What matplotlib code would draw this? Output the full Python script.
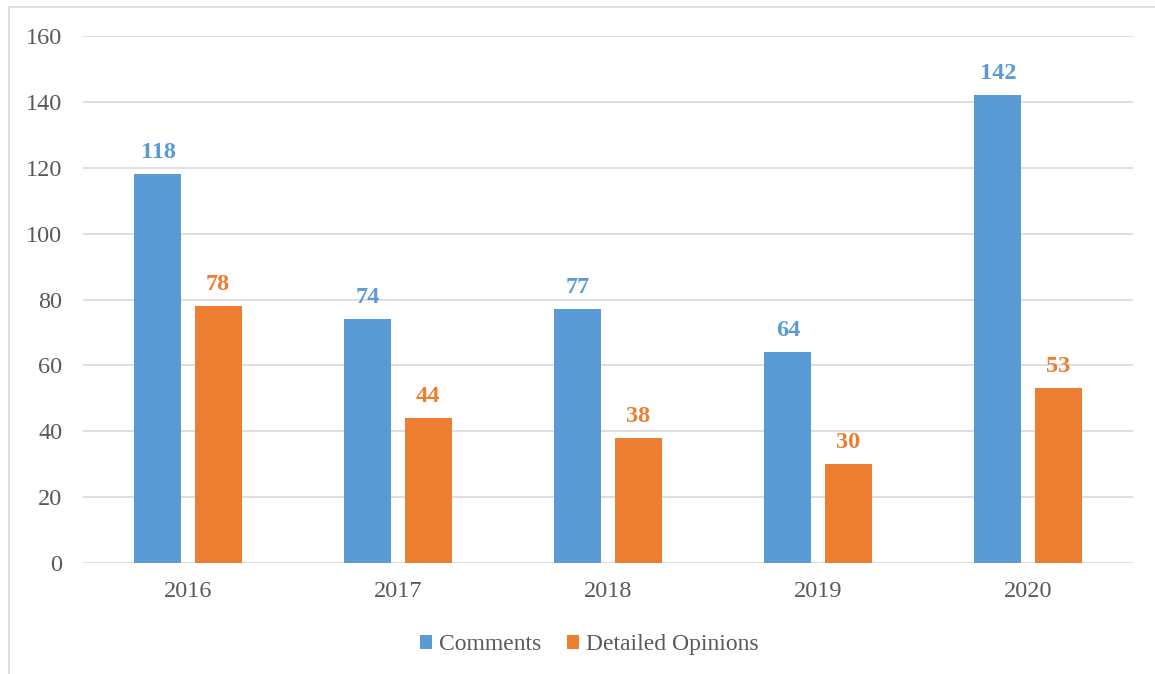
import matplotlib.pyplot as plt
import numpy as np
from matplotlib.patches import Rectangle

years = ["2016", "2017", "2018", "2019", "2020"]
comments = [118, 74, 77, 64, 142]
opinions = [78, 44, 38, 30, 53]

blue = "#5B9BD5"
orange = "#ED7D31"
grey = "#595959"

plt.rcParams["font.family"] = ["Liberation Serif", "DejaVu Serif"]

fig = plt.figure(figsize=(11.55, 6.74), dpi=100)
ax = fig.add_axes([83 / 1155, 1 - 563 / 674, 1050 / 1155, 527 / 674])

# outer chart border
fig.patches.append(Rectangle((9 / 1155, -0.05), 1.2, 0.05 + 1 - 7 / 674,
                             transform=fig.transFigure, fill=False,
                             edgecolor="#D9D9D9", linewidth=1.2))

x = np.arange(len(years))
w = 0.224
off = 0.143
b1 = ax.bar(x - off, comments, w, color=blue, label="Comments", zorder=3)
b2 = ax.bar(x + off, opinions, w, color=orange, label="Detailed Opinions", zorder=3)

for bars, col in ((b1, blue), (b2, orange)):
    for r in bars:
        ax.annotate(f"{int(r.get_height())}", (r.get_x() + r.get_width() / 2, r.get_height()),
                    xytext=(0, 8), textcoords="offset points", ha="center", va="bottom",
                    color=col, fontsize=17.5, fontweight="bold")

ax.set_xlim(-0.5, 4.5)
ax.set_ylim(0, 160)
ax.set_yticks(range(0, 161, 20))
ax.set_xticks(x)
ax.set_xticklabels(years)
ax.grid(axis="y", color="#D9D9D9", linewidth=1.2, zorder=0)
for s in ax.spines.values():
    s.set_visible(False)
ax.tick_params(length=0, labelsize=17.5, labelcolor=grey)
ax.tick_params(axis="y", pad=15)
ax.tick_params(axis="x", pad=13)

ax.legend(loc="center", bbox_to_anchor=(0.482, -0.155), ncol=2, frameon=False,
          fontsize=17, labelcolor=grey, handlelength=0.5, handleheight=0.5,
          handletextpad=0.3, columnspacing=1.1)

fig.savefig("out.png", dpi=100)
